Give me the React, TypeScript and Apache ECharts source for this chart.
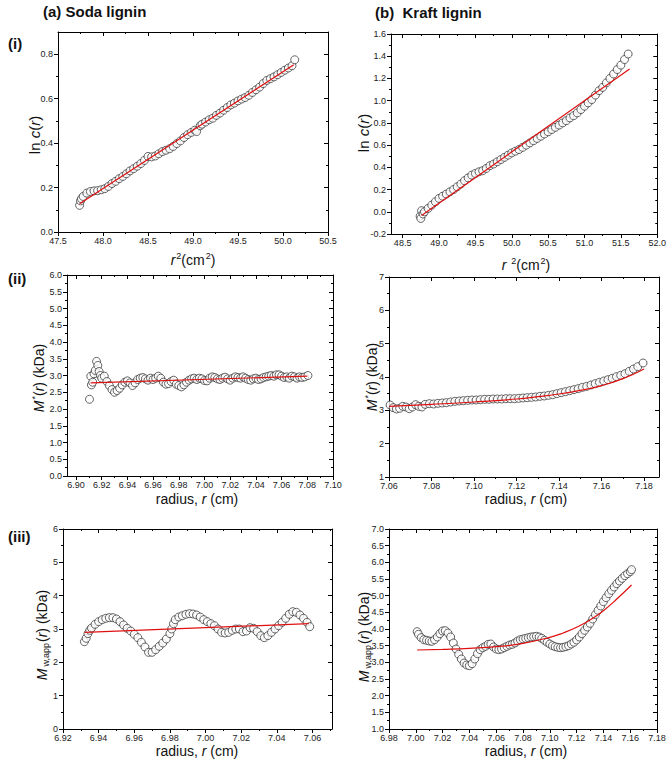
import React, { useEffect, useRef } from 'react';
import * as echarts from 'echarts';

// ---------- DATA ----------
// (i)(a) Soda lignin: ln c(r) vs r^2
const sodaLnC: number[][] = [
  [47.74, 0.12], [47.75, 0.14], [47.76, 0.15], [47.78, 0.16], [47.82, 0.175], [47.86, 0.182], [47.9, 0.185],
  [47.94, 0.186], [47.98, 0.19], [48.02, 0.195], [48.06, 0.205], [48.1, 0.218], [48.14, 0.228], [48.18, 0.24],
  [48.22, 0.25], [48.26, 0.262], [48.3, 0.275], [48.34, 0.285], [48.38, 0.296], [48.42, 0.308], [48.46, 0.322],
  [48.5, 0.34], [48.54, 0.338], [48.58, 0.342], [48.62, 0.352], [48.66, 0.362], [48.7, 0.368], [48.74, 0.375],
  [48.78, 0.385], [48.82, 0.398], [48.86, 0.41], [48.9, 0.425], [48.94, 0.438], [48.98, 0.448], [49.02, 0.458],
  [49.04, 0.452], [49.08, 0.478], [49.1, 0.485], [49.14, 0.495], [49.18, 0.505], [49.22, 0.512], [49.26, 0.525],
  [49.3, 0.535], [49.34, 0.548], [49.38, 0.56], [49.42, 0.572], [49.46, 0.58], [49.5, 0.59], [49.54, 0.598],
  [49.58, 0.605], [49.62, 0.615], [49.66, 0.628], [49.7, 0.64], [49.74, 0.652], [49.78, 0.668], [49.82, 0.682],
  [49.86, 0.69], [49.9, 0.698], [49.94, 0.708], [49.98, 0.718], [50.02, 0.728], [50.06, 0.738], [50.1, 0.748],
  [50.13, 0.775],
];
const sodaLnCFit: number[][] = [[47.74, 0.127], [50.12, 0.753]];

// (i)(b) Kraft lignin: ln c(r) vs r^2
const kraftLnC: number[][] = [
  [48.74, -0.04], [48.75, -0.06], [48.76, 0.01], [48.78, -0.02], [48.8, 0.0], [48.85, 0.03], [48.9, 0.06],
  [48.95, 0.09], [49.0, 0.12], [49.05, 0.14], [49.1, 0.16], [49.15, 0.18], [49.2, 0.2], [49.25, 0.225],
  [49.3, 0.25], [49.35, 0.28], [49.4, 0.305], [49.45, 0.33], [49.5, 0.345], [49.55, 0.36], [49.6, 0.37],
  [49.65, 0.39], [49.7, 0.415], [49.75, 0.43], [49.8, 0.45], [49.85, 0.47], [49.9, 0.49], [49.95, 0.51],
  [50.0, 0.53], [50.05, 0.545], [50.1, 0.56], [50.15, 0.58], [50.2, 0.6], [50.25, 0.62], [50.3, 0.64],
  [50.35, 0.66], [50.4, 0.68], [50.45, 0.7], [50.5, 0.72], [50.55, 0.74], [50.6, 0.76], [50.65, 0.78],
  [50.7, 0.8], [50.75, 0.82], [50.8, 0.845], [50.85, 0.865], [50.9, 0.89], [50.95, 0.92], [51.0, 0.95],
  [51.05, 0.98], [51.1, 1.01], [51.15, 1.05], [51.2, 1.09], [51.25, 1.12], [51.3, 1.16], [51.35, 1.2],
  [51.4, 1.24], [51.45, 1.28], [51.5, 1.32], [51.55, 1.37], [51.6, 1.42],
];
const kraftLnCFit: number[][] = [[48.76, -0.033], [51.62, 1.285]];

// (ii)(a) Soda lignin: M*(r)
const sodaMStar: number[][] = [
  [6.9105, 2.29], [6.9115, 2.98], [6.912, 2.72], [6.913, 2.8], [6.914, 3.05], [6.915, 3.15], [6.916, 3.42],
  [6.917, 3.3], [6.918, 3.12], [6.919, 3.0], [6.92, 2.92], [6.922, 2.98], [6.924, 2.82], [6.926, 2.7],
  [6.928, 2.58], [6.93, 2.5], [6.932, 2.55], [6.934, 2.62], [6.936, 2.72], [6.938, 2.8], [6.94, 2.84],
  [6.942, 2.78], [6.944, 2.7], [6.946, 2.78], [6.948, 2.88], [6.95, 2.92], [6.952, 2.94], [6.954, 2.9],
  [6.956, 2.86], [6.958, 2.92], [6.96, 2.88], [6.962, 2.92], [6.964, 2.98], [6.966, 2.92], [6.968, 2.8],
  [6.97, 2.74], [6.972, 2.76], [6.974, 2.82], [6.976, 2.86], [6.978, 2.74], [6.98, 2.7], [6.982, 2.66],
  [6.984, 2.72], [6.986, 2.8], [6.988, 2.86], [6.99, 2.9], [6.992, 2.92], [6.994, 2.88], [6.996, 2.92],
  [6.998, 2.9], [7.0, 2.85], [7.002, 2.84], [7.004, 2.92], [7.006, 2.96], [7.008, 2.94], [7.01, 2.9],
  [7.012, 2.88], [7.014, 2.92], [7.016, 2.95], [7.018, 2.9], [7.02, 2.86], [7.022, 2.92], [7.024, 2.96],
  [7.026, 2.94], [7.028, 2.92], [7.03, 2.96], [7.032, 2.92], [7.034, 2.88], [7.036, 2.86], [7.038, 2.9],
  [7.04, 2.92], [7.042, 2.88], [7.044, 2.9], [7.046, 2.94], [7.048, 2.96], [7.05, 2.98], [7.052, 3.0],
  [7.054, 2.98], [7.056, 3.02], [7.058, 3.02], [7.06, 2.98], [7.062, 2.94], [7.064, 2.96], [7.066, 2.92],
  [7.068, 2.98], [7.07, 2.96], [7.072, 2.92], [7.074, 2.96], [7.076, 2.94], [7.078, 2.96], [7.0805, 3.0],
];
const sodaMStarFit: number[][] = [[6.9114, 2.78], [7.08, 2.98]];

// (ii)(b) Kraft lignin: M*(r)
const kraftMStar: number[][] = [
  [7.0605, 3.16], [7.062, 3.08], [7.0635, 3.04], [7.065, 3.06], [7.0665, 3.12], [7.068, 3.1], [7.0695, 3.05],
  [7.071, 3.1], [7.0725, 3.17], [7.074, 3.12], [7.0755, 3.1], [7.077, 3.18], [7.079, 3.2], [7.081, 3.19],
  [7.083, 3.21], [7.085, 3.22], [7.087, 3.23], [7.089, 3.25], [7.091, 3.27], [7.093, 3.28], [7.095, 3.29],
  [7.097, 3.3], [7.099, 3.31], [7.101, 3.31], [7.103, 3.32], [7.105, 3.33], [7.107, 3.33], [7.109, 3.34],
  [7.111, 3.34], [7.113, 3.34], [7.115, 3.35], [7.117, 3.35], [7.119, 3.35], [7.121, 3.36], [7.123, 3.37],
  [7.125, 3.38], [7.127, 3.39], [7.129, 3.4], [7.131, 3.42], [7.133, 3.43], [7.135, 3.45], [7.137, 3.47],
  [7.139, 3.5], [7.141, 3.53], [7.143, 3.56], [7.145, 3.59], [7.147, 3.62], [7.149, 3.65], [7.151, 3.69],
  [7.153, 3.72], [7.155, 3.76], [7.157, 3.8], [7.159, 3.84], [7.161, 3.88], [7.163, 3.92], [7.165, 3.96],
  [7.167, 4.01], [7.169, 4.05], [7.171, 4.1], [7.173, 4.17], [7.175, 4.24], [7.177, 4.31], [7.1795, 4.42],
];
const kraftMStarFit: number[][] = [
  [7.06, 3.12], [7.08, 3.18], [7.1, 3.25], [7.12, 3.34], [7.13, 3.41], [7.14, 3.49], [7.15, 3.6],
  [7.16, 3.74], [7.17, 3.95], [7.18, 4.24],
];

// (iii)(a) Soda lignin: Mw,app(r)
const sodaMwApp: number[][] = [
  [6.932, 2.62], [6.933, 2.72], [6.934, 2.86], [6.935, 2.96], [6.936, 3.03], [6.938, 3.14], [6.94, 3.22],
  [6.942, 3.28], [6.944, 3.32], [6.946, 3.34], [6.948, 3.34], [6.95, 3.3], [6.952, 3.22], [6.954, 3.12],
  [6.956, 3.02], [6.958, 2.94], [6.96, 2.84], [6.962, 2.74], [6.964, 2.6], [6.966, 2.46], [6.968, 2.3],
  [6.97, 2.3], [6.972, 2.38], [6.974, 2.48], [6.976, 2.58], [6.978, 2.7], [6.98, 2.86], [6.981, 3.0],
  [6.982, 3.16], [6.983, 3.28], [6.985, 3.36], [6.987, 3.4], [6.989, 3.44], [6.991, 3.46], [6.993, 3.45],
  [6.995, 3.42], [6.997, 3.36], [6.999, 3.28], [7.001, 3.22], [7.003, 3.16], [7.005, 3.1], [7.007, 3.0],
  [7.009, 2.9], [7.011, 2.88], [7.013, 2.9], [7.015, 2.96], [7.017, 3.0], [7.019, 3.0], [7.021, 2.92],
  [7.023, 2.94], [7.025, 3.04], [7.027, 3.02], [7.029, 2.92], [7.031, 2.8], [7.033, 2.74], [7.035, 2.8],
  [7.037, 2.9], [7.039, 3.0], [7.041, 3.1], [7.043, 3.2], [7.045, 3.32], [7.047, 3.44], [7.049, 3.52],
  [7.051, 3.5], [7.053, 3.42], [7.055, 3.32], [7.057, 3.2], [7.0585, 3.07],
];
const sodaMwAppFit: number[][] = [[6.9322, 2.9], [7.058, 3.16]];

// (iii)(b) Kraft lignin: Mw,app(r)
const kraftMwApp: number[][] = [
  [7.001, 3.92], [7.002, 3.84], [7.004, 3.74], [7.006, 3.68], [7.008, 3.66], [7.01, 3.64], [7.012, 3.63],
  [7.014, 3.68], [7.016, 3.76], [7.018, 3.86], [7.02, 3.94], [7.022, 3.95], [7.024, 3.88], [7.026, 3.76],
  [7.028, 3.58], [7.03, 3.4], [7.032, 3.24], [7.034, 3.1], [7.036, 2.98], [7.038, 2.92], [7.04, 2.9],
  [7.042, 2.96], [7.044, 3.1], [7.046, 3.26], [7.048, 3.38], [7.05, 3.44], [7.052, 3.48], [7.054, 3.54],
  [7.056, 3.55], [7.058, 3.46], [7.06, 3.4], [7.062, 3.38], [7.064, 3.4], [7.066, 3.44], [7.068, 3.48],
  [7.07, 3.52], [7.072, 3.54], [7.074, 3.58], [7.076, 3.64], [7.078, 3.68], [7.08, 3.7], [7.082, 3.72],
  [7.084, 3.74], [7.086, 3.76], [7.088, 3.77], [7.09, 3.78], [7.092, 3.76], [7.094, 3.72], [7.096, 3.66],
  [7.098, 3.6], [7.1, 3.55], [7.102, 3.5], [7.104, 3.47], [7.106, 3.45], [7.108, 3.44], [7.11, 3.45],
  [7.112, 3.47], [7.114, 3.5], [7.116, 3.55], [7.118, 3.6], [7.12, 3.67], [7.122, 3.76], [7.124, 3.86],
  [7.126, 3.96], [7.128, 4.06], [7.13, 4.17], [7.132, 4.3], [7.134, 4.43], [7.136, 4.56], [7.138, 4.69],
  [7.14, 4.82], [7.142, 4.94], [7.144, 5.06], [7.146, 5.16], [7.148, 5.26], [7.15, 5.36], [7.152, 5.44],
  [7.154, 5.52], [7.156, 5.6], [7.158, 5.66], [7.16, 5.72], [7.161, 5.78],
];
const kraftMwAppFit: number[][] = [
  [7.001, 3.37], [7.02, 3.39], [7.04, 3.42], [7.06, 3.47], [7.08, 3.57], [7.1, 3.75], [7.11, 3.88],
  [7.12, 4.05], [7.13, 4.27], [7.14, 4.55], [7.15, 4.9], [7.161, 5.32],
];

// ---------- TICKS ----------
const ticksXia = [47.5, 48.0, 48.5, 49.0, 49.5, 50.0, 50.5];
const ticksYia = [0.0, 0.2, 0.4, 0.6, 0.8];
const ticksXib = [48.5, 49.0, 49.5, 50.0, 50.5, 51.0, 51.5, 52.0];
const ticksYib = [-0.2, 0.0, 0.2, 0.4, 0.6, 0.8, 1.0, 1.2, 1.4, 1.6];
const ticksXiia = [6.9, 6.92, 6.94, 6.96, 6.98, 7.0, 7.02, 7.04, 7.06, 7.08, 7.1];
const ticksYiia = [0.0, 0.5, 1.0, 1.5, 2.0, 2.5, 3.0, 3.5, 4.0, 4.5, 5.0, 5.5, 6.0];
const ticksXiib = [7.06, 7.08, 7.1, 7.12, 7.14, 7.16, 7.18];
const ticksYiib = [1, 2, 3, 4, 5, 6, 7];
const ticksXiiia = [6.92, 6.94, 6.96, 6.98, 7.0, 7.02, 7.04, 7.06];
const ticksYiiia = [0, 1, 2, 3, 4, 5, 6];
const ticksXiiib = [6.98, 7.0, 7.02, 7.04, 7.06, 7.08, 7.1, 7.12, 7.14, 7.16, 7.18];
const ticksYiiib = [1.0, 1.5, 2.0, 2.5, 3.0, 3.5, 4.0, 4.5, 5.0, 5.5, 6.0, 6.5, 7.0];

const FONT = "'Liberation Sans', Arial, Helvetica, sans-serif";

type AxisSpec = { min: number; max: number; major: number[]; dec: number };
type Panel = {
  grid: { left: number; top: number; width: number; height: number };
  x: AxisSpec;
  y: AxisSpec;
  pts: number[][];
  fit: number[][];
  smooth: boolean;
};

const panels: Panel[] = [
  { grid: { left: 58, top: 32, width: 270, height: 200 }, x: { min: 47.5, max: 50.5, major: ticksXia, dec: 1 }, y: { min: 0, max: 0.9, major: ticksYia, dec: 1 }, pts: sodaLnC, fit: sodaLnCFit, smooth: false },
  { grid: { left: 391, top: 34, width: 268, height: 200 }, x: { min: 48.34, max: 52.0, major: ticksXib, dec: 1 }, y: { min: -0.2, max: 1.6, major: ticksYib, dec: 1 }, pts: kraftLnC, fit: kraftLnCFit, smooth: false },
  { grid: { left: 67, top: 275, width: 266, height: 201 }, x: { min: 6.893, max: 7.1, major: ticksXiia, dec: 2 }, y: { min: 0, max: 6, major: ticksYiia, dec: 1 }, pts: sodaMStar, fit: sodaMStarFit, smooth: false },
  { grid: { left: 389, top: 277, width: 270, height: 200 }, x: { min: 7.06, max: 7.187, major: ticksXiib, dec: 2 }, y: { min: 1, max: 7, major: ticksYiib, dec: 0 }, pts: kraftMStar, fit: kraftMStarFit, smooth: true },
  { grid: { left: 63, top: 529, width: 269, height: 200 }, x: { min: 6.92, max: 7.071, major: ticksXiiia, dec: 2 }, y: { min: 0, max: 6, major: ticksYiiia, dec: 0 }, pts: sodaMwApp, fit: sodaMwAppFit, smooth: false },
  { grid: { left: 389, top: 529, width: 268, height: 200 }, x: { min: 6.98, max: 7.18, major: ticksXiiib, dec: 2 }, y: { min: 1, max: 7, major: ticksYiiib, dec: 1 }, pts: kraftMwApp, fit: kraftMwAppFit, smooth: true },
];

function minorsOf(spec: AxisSpec): number[] {
  const m = spec.major;
  const step = m[1] - m[0];
  const out: number[] = [];
  for (let i = -1; i < m.length; i++) {
    const v = +(m[0] + step * (i + 0.5)).toFixed(6);
    if (v > spec.min + 1e-9 && v < spec.max - 1e-9) out.push(v);
  }
  return out;
}

function buildAxes(dim: 'x' | 'y', gridIndex: number, spec: AxisSpec) {
  const posA = dim === 'x' ? 'bottom' : 'left';
  const posB = dim === 'x' ? 'top' : 'right';
  const ls = { color: '#000', width: 1 };
  const minors = minorsOf(spec);
  const base = { type: 'value', gridIndex, min: spec.min, max: spec.max, splitLine: { show: false }, axisPointer: { show: false }, silent: true };
  return [
    {
      ...base, position: posA,
      axisLine: { show: true, onZero: false, lineStyle: ls },
      axisTick: { show: true, inside: false, length: 4, customValues: spec.major, lineStyle: ls },
      axisLabel: {
        show: true, customValues: spec.major, formatter: (v: number) => v.toFixed(spec.dec),
        fontSize: 9, color: '#222', fontFamily: FONT, margin: dim === 'x' ? 4 : 5,
      },
    },
    {
      ...base, position: posA,
      axisLine: { show: false, onZero: false },
      axisTick: { show: true, inside: false, length: 2, customValues: minors, lineStyle: ls },
      axisLabel: { show: false },
    },
    {
      ...base, position: posB,
      axisLine: { show: true, onZero: false, lineStyle: ls },
      axisTick: { show: true, inside: true, length: 4, customValues: spec.major, lineStyle: ls },
      axisLabel: { show: false },
    },
    {
      ...base, position: posB,
      axisLine: { show: false, onZero: false },
      axisTick: { show: true, inside: true, length: 2, customValues: minors, lineStyle: ls },
      axisLabel: { show: false },
    },
  ];
}

const RICH = {
  n: { fontSize: 14, lineHeight: 17, fontFamily: FONT, color: '#111' },
  i: { fontSize: 14, lineHeight: 17, fontFamily: FONT, fontStyle: 'italic', color: '#111' },
  sup: { fontSize: 9, lineHeight: 9, verticalAlign: 'top', fontFamily: FONT, color: '#111', padding: [0, 0, 0, 1] },
  sub: { fontSize: 9, lineHeight: 9, verticalAlign: 'bottom', fontFamily: FONT, color: '#111', padding: [0, 1, 0, 2] },
  nb: { fontSize: 15, lineHeight: 17, fontFamily: FONT, color: '#111' },
  ib: { fontSize: 15, lineHeight: 17, fontFamily: FONT, fontStyle: 'italic', color: '#111' },
};

function label(text: string, x: number, y: number, rotate = false) {
  return {
    type: 'text', x, y, rotation: rotate ? Math.PI / 2 : 0, silent: true,
    style: { text, rich: RICH, align: 'center', verticalAlign: 'middle', fontFamily: FONT, fontSize: 14, fill: '#111' },
  };
}

function bold(text: string, x: number, y: number) {
  return {
    type: 'text', x, y, silent: true,
    style: { text, fontFamily: FONT, fontSize: 15, fontWeight: 'bold', fill: '#111', align: 'left', verticalAlign: 'middle' },
  };
}

export default function App() {
  const ref = useRef<HTMLDivElement>(null);
  useEffect(() => {
    if (!ref.current) return;
    const chart = echarts.init(ref.current, undefined, { renderer: 'svg' });
    const xAxis: any[] = [];
    const yAxis: any[] = [];
    const series: any[] = [];
    panels.forEach((p, g) => {
      xAxis.push(...buildAxes('x', g, p.x));
      yAxis.push(...buildAxes('y', g, p.y));
      series.push({
        type: 'scatter', xAxisIndex: g * 4, yAxisIndex: g * 4, data: p.pts, symbol: 'circle', symbolSize: 8,
        itemStyle: { color: '#fff', borderColor: '#2a2a2a', borderWidth: 0.9 }, silent: true, z: 2,
      });
      series.push({
        type: 'line', xAxisIndex: g * 4, yAxisIndex: g * 4, data: p.fit, showSymbol: false, smooth: p.smooth,
        lineStyle: { color: '#e01010', width: 1.2 }, silent: true, z: 3,
      });
    });
    const graphic = [
      bold('(a) Soda lignin', 43, 11),
      bold('(b)  Kraft lignin', 375, 12),
      bold('(i)', 8, 43),
      bold('(ii)', 8, 278),
      bold('(iii)', 8, 536),
      label('{i|r}{sup|2}{n|(cm}{sup|2}{n|)}', 193, 260),
      label('{i|r}{n| }{sup|2}{n|(cm}{sup|2}{n|)}', 526, 265),
      label('{nb|ln }{ib|c}{nb|(}{ib|r}{nb|)}', 34, 135, true),
      label('{nb|ln }{ib|c}{nb|(}{ib|r}{nb|)}', 363, 133, true),
      label('{i|M}{sup|*}{n|(}{i|r}{n|) (kDa)}', 39, 378, true),
      label('{i|M}{sup|*}{n|(}{i|r}{n|) (kDa)}', 372, 377, true),
      label('{i|M}{sub|w,app}{n|(}{i|r}{n|) (kDa)}', 42, 635, true),
      label('{i|M}{sub|w,app}{n|(}{i|r}{n|) (kDa)}', 364, 637, true),
      label('{n|radius, }{i|r}{n| (cm)}', 197, 499),
      label('{n|radius, }{i|r}{n| (cm)}', 526, 499),
      label('{n|radius, }{i|r}{n| (cm)}', 197, 751),
      label('{n|radius, }{i|r}{n| (cm)}', 526, 751),
    ];
    chart.setOption({
      animation: false,
      backgroundColor: '#fff',
      grid: panels.map((p) => ({ ...p.grid, containLabel: false })),
      xAxis,
      yAxis,
      series,
      graphic,
    });
    return () => chart.dispose();
  }, []);
  return (
    <div style={{ position: 'fixed', left: 0, top: 0, width: 669, height: 761, background: '#fff' }}>
      <div ref={ref} style={{ width: 669, height: 761 }} />
    </div>
  );
}
